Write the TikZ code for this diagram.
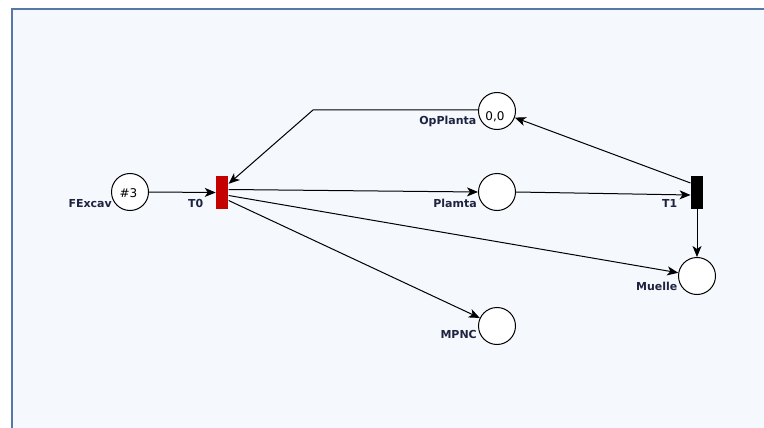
\documentclass[tikz,border=0pt]{standalone}
\usepackage{fontspec}
\setmainfont{DejaVu Sans}
\usetikzlibrary{arrows.meta}
\definecolor{panelfill}{HTML}{F5F8FD}
\definecolor{panelline}{HTML}{5577AA}
\definecolor{labelcol}{HTML}{1E2440}
\definecolor{tzero}{HTML}{C40000}
\begin{document}
\begin{tikzpicture}[x=1pt,y=-1pt,
  place/.style={circle,draw=black,fill=white,line width=1pt,minimum size=37pt,inner sep=0pt},
  trans/.style={rectangle,minimum width=12.5pt,minimum height=33pt,inner sep=0pt,draw=none},
  lbl/.style={anchor=base east,font=\bfseries\fontsize{11}{13}\selectfont,text=labelcol,inner sep=0pt},
  tok/.style={font=\fontsize{12}{14}\selectfont,inner sep=0pt},
  arc/.style={draw=black,line width=1pt,-{Stealth[length=11pt,width=9pt,inset=3pt]}}]
\useasboundingbox (0,0) rectangle (764,428);
\fill[white] (0,0) rectangle (764,428);
\filldraw[fill=panelfill,draw=panelline,line width=1.6pt] (11.8,8.8) rectangle (790,450);
% places
\node[place] (FExcav) at (130,192) {};
\node[place] (OpPlanta) at (497,111) {};
\node[place] (Plamta) at (497,192) {};
\node[place] (Muelle) at (697,276) {};
\node[place] (MPNC) at (497,326) {};
% transitions
\node[trans,fill=tzero] (T0) at (222.2,192.5) {};
\node[trans,fill=black] (T1) at (697,192.5) {};
% tokens
\node[tok] (tokA) at (128.5,193.5) {\#3};
\node[tok] (tokB) at (495,116.5) {0,0};
% labels
\node[lbl] (lFExcav) at (112,207) {FExcav};
\node[lbl] (lT0) at (203.5,207) {T0};
\node[lbl] (lOpPlanta) at (476.5,124.5) {OpPlanta};
\node[lbl] (lPlamta) at (477,207) {Plamta};
\node[lbl] (lT1) at (677.5,207) {T1};
\node[lbl] (lMuelle) at (677.5,290) {Muelle};
\node[lbl] (lMPNC) at (477,338) {MPNC};
% arcs
\coordinate (bend) at (313,110);
\draw[arc] (FExcav.east) -- (T0.west);
\draw[arc] (OpPlanta.west |- bend) -- (bend) -- ([yshift=-8pt]T0.north east);
\draw[arc] ([yshift=3pt]T0.east) -- (Plamta.west);
\draw[arc] ([yshift=-3pt]T0.east) -- (Muelle);
\draw[arc] ([yshift=-8pt]T0.east) -- (MPNC);
\draw[arc] (Plamta.east) -- ([yshift=-2.5pt]T1.west);
\draw[arc] ([yshift=9.5pt]T1.west) -- (OpPlanta);
\draw[arc] (T1.south) -- (Muelle.north);
\end{tikzpicture}
\end{document}
